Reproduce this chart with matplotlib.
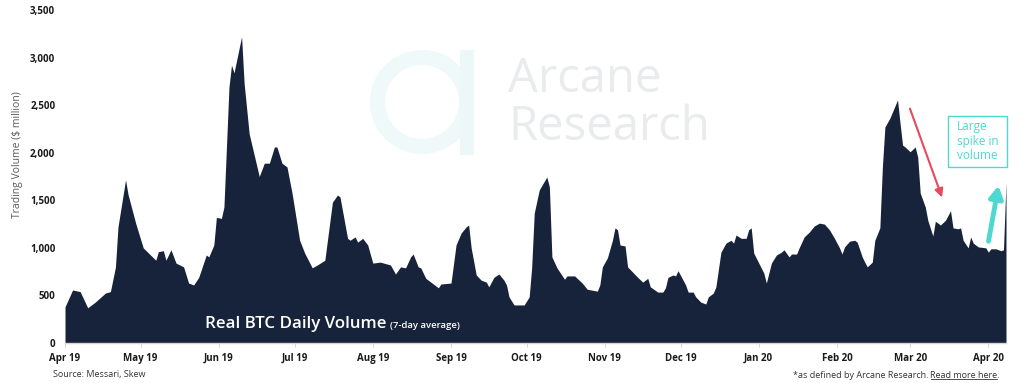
import numpy as np
import pandas as pd
import matplotlib
matplotlib.use('Agg')
import matplotlib.pyplot as plt
from matplotlib.patches import Wedge, Rectangle, FancyArrowPatch

plt.rcParams['font.family'] = ['Open Sans', 'DejaVu Sans']

# 7-day average of real BTC volume (days after 1 Apr 2019, $ million)
start = pd.Timestamp('2019-04-01')
day_offset = [0, 3, 6, 9, 12, 16, 18, 20, 21, 24, 25, 28, 31, 36, 37, 39, 40, 42, 44, 47,
              49, 51, 53, 56, 57, 59, 60, 62, 63, 65, 66, 67, 70, 71, 73, 77, 79, 81, 83, 84,
              86, 88, 90, 93, 95, 98, 100, 103, 106, 108, 109, 112, 113, 115, 116, 118, 120, 122, 125, 129,
              131, 133, 135, 137, 138, 140, 141, 143, 148, 149, 153, 155, 157, 159, 160, 161, 163, 165, 167, 168,
              170, 172, 174, 175, 176, 178, 182, 184, 185, 186, 188, 191, 192, 193, 195, 198, 199, 202, 205, 207,
              211, 212, 213, 215, 217, 218, 219, 220, 222, 223, 225, 227, 229, 231, 232, 235, 237, 238, 239, 241,
              242, 243, 246, 247, 249, 250, 252, 254, 255, 257, 258, 260, 262, 264, 265, 266, 268, 270, 271, 272,
              273, 275, 277, 278, 280, 282, 284, 285, 287, 288, 290, 291, 293, 295, 297, 299, 301, 303, 305, 307,
              308, 309, 311, 313, 314, 316, 317, 318, 320, 321, 323, 324, 325, 327, 330, 331, 332, 333, 335, 337,
              338, 339, 341, 342, 344, 345, 347, 349, 351, 352, 354, 355, 356, 358, 359, 360, 362, 365, 366, 367,
              369, 371, 372, 373]
volume = [380, 557, 540, 370, 430, 525, 540, 800, 1220, 1715, 1560, 1260, 1000, 870, 960, 970, 870, 980, 840, 800,
          630, 610, 690, 925, 905, 1030, 1320, 1310, 1430, 2690, 2920, 2840, 3220, 2730, 2200, 1750, 1890, 1890, 2060, 2060,
          1890, 1850, 1575, 1080, 945, 790, 820, 870, 1480, 1555, 1535, 1100, 1080, 1115, 1060, 1100, 1030, 840, 850, 820,
          725, 800, 790, 905, 935, 800, 790, 680, 580, 620, 630, 1030, 1155, 1220, 1240, 1000, 715, 660, 640, 590,
          690, 725, 660, 610, 485, 400, 400, 485, 800, 1365, 1610, 1745, 1640, 905, 790, 670, 705, 705, 630, 565,
          545, 610, 800, 895, 1080, 1210, 1190, 1030, 1020, 800, 745, 690, 640, 680, 590, 535, 535, 580, 690, 715,
          705, 760, 610, 535, 535, 485, 430, 410, 485, 525, 590, 955, 1050, 1080, 1050, 1135, 1100, 1100, 1190, 1210,
          945, 840, 735, 630, 840, 925, 955, 980, 905, 935, 935, 1000, 1115, 1165, 1230, 1260, 1250, 1190, 1100, 1000,
          935, 1010, 1070, 1080, 1060, 905, 850, 800, 850, 1080, 1210, 1850, 2270, 2365, 2555, 2310, 2080, 2060, 2010, 2060,
          1955, 1575, 1430, 1290, 1125, 1280, 1240, 1290, 1390, 1210, 1200, 1210, 1080, 1000, 1115, 1050, 1010, 1000, 955, 990,
          990, 970, 980, 1690]

dates = start + pd.to_timedelta(day_offset, unit='D')
tick_dates = pd.date_range('2019-04-01', '2020-04-01', freq='MS')
tick_labels = [d.strftime('%b %y') for d in tick_dates]
y_ticks = [0, 500, 1000, 1500, 2000, 2500, 3000, 3500]

fig = plt.figure(figsize=(10.24, 3.83), dpi=100)

# pixel overlay for watermark and notes
bg = fig.add_axes([0, 0, 1, 1], zorder=0)
bg.set_xlim(0, 1024)
bg.set_ylim(383, 0)
bg.axis('off')

ax = fig.add_axes([65 / 1024, 40 / 383, 941 / 1024, 333 / 383], zorder=1)
ax.patch.set_alpha(0)
ax.fill_between(dates, volume, color='#17233a', lw=0)
ax.set_xlim(start, start + pd.Timedelta(days=373))
ax.set_ylim(0, 3500)

ax.set_xticks(tick_dates)
ax.set_xticklabels(tick_labels, fontsize=7, fontweight='bold', color='#1a1a1a')
ax.set_yticks(y_ticks)
ax.set_yticklabels([f'{v:,}' for v in y_ticks], fontsize=7, fontweight='bold', color='#1a1a1a')
ax.tick_params(axis='x', length=3, color='#d6d6d6', pad=4)
ax.tick_params(axis='y', length=0, pad=7)
for s in ['top', 'right', 'left']:
    ax.spines[s].set_visible(False)
ax.spines['bottom'].set_color('#d6d6d6')
ax.spines['bottom'].set_linewidth(1)

bg.text(18, 155, 'Trading Volume ($ million)', rotation=90, ha='center', va='center',
        fontsize=7.5, color='#595959')

# watermark
bg.add_patch(Wedge((422, 102), 52, 0, 360, width=15, color='#eff9f9', lw=0))
bg.add_patch(Rectangle((460, 50), 14, 105, color='#ecf8f8', lw=0))
bg.text(508, 92, 'Arcane', fontsize=34, color='#e9ebed', va='baseline')
bg.text(508, 140, 'Research', fontsize=34, color='#e9ebed', va='baseline')

# title inside the area
title = ax.text(205, 328, 'Real BTC Daily Volume', transform=bg.transData, color='white',
                fontsize=12.2, fontweight='semibold', va='baseline', zorder=5)
fig.canvas.draw()
tb = title.get_window_extent()
ax.text(tb.x1 + 4, 328, '(7-day average)', transform=bg.transData, color='white',
        fontsize=6.8, fontweight='semibold', va='baseline', zorder=5)

# annotations
bg.add_patch(FancyArrowPatch((909, 106), (943, 200), arrowstyle='-|>,head_length=5,head_width=2.5',
                             color='#e8495b', lw=1.5))
bg.add_patch(FancyArrowPatch((988, 244), (999, 183), arrowstyle='-|>,head_length=7,head_width=4',
                             color='#4fd8cf', lw=3.5))
bg.add_patch(Rectangle((948, 116), 59, 51, fill=False, ec='#4fd8cf', lw=1))
bg.text(957, 120, 'Large\nspike in\nvolume', fontsize=8.5, color='#4fd8cf', va='top', ha='left',
        linespacing=1.15)

# footer
bg.text(53, 375, 'Source: Messari, Skew', fontsize=6.5, color='#333333', va='center')
t2 = bg.text(1000, 375, 'Read more here.', fontsize=6.5, color='#333333', va='center', ha='right')
fig.canvas.draw()
bb = t2.get_window_extent()
left = bb.x0
bg.text(left - 2, 375, '*as defined by Arcane Research.', fontsize=6.5, color='#333333',
        va='center', ha='right')
bg.plot([left, bb.x1 - 3], [383 - bb.y0 - 1, 383 - bb.y0 - 1], color='#333333', lw=0.6)

fig.savefig('out.png', dpi=100)
